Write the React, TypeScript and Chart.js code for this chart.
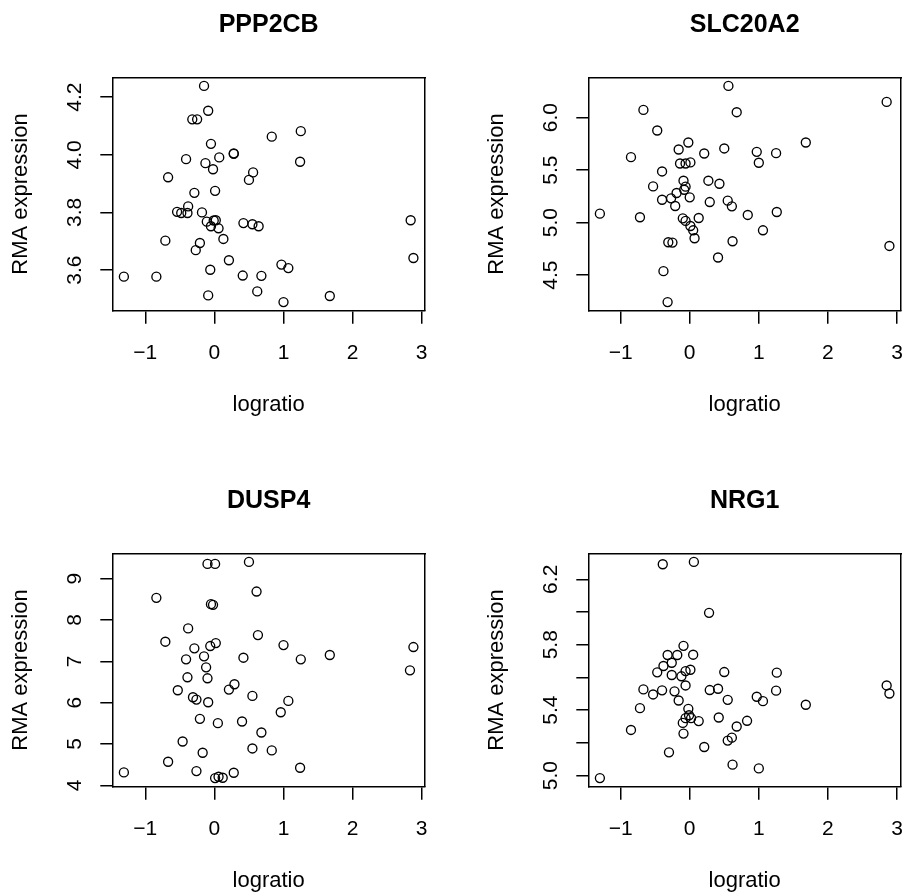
import React, { useEffect, useRef } from 'react';
import { Chart, registerables } from 'chart.js';

Chart.register(...registerables);

const FONT = "'Liberation Sans', Arial, Helvetica, sans-serif";
Chart.defaults.font.family = FONT;
Chart.defaults.color = '#000';

// ---------- data ----------
const xTicks = [-1, 0, 1, 2, 3];
const xTickLabels = ['\u22121', '0', '1', '2', '3'];

const ppp2cbX = [-0.15, -0.09, -0.32, -0.25, 1.25, 0.83, -0.05, 0.28, 0.28, -0.41, 0.07, -0.13, 1.24, -0.02, 0.56, 0.50, -0.67, -0.29, 0.01, -0.38, -0.54, -0.48, -0.39, -0.18, -0.11, -0.01, 0.02, -0.05, 0.06, 0.42, 0.55, 0.64, 2.84, 0.13, -0.71, -0.21, -0.27, 0.21, 2.88, 0.97, 1.07, -0.06, -1.31, -0.84, 0.41, 0.68, -0.09, 0.62, 1.67, 1.00];
const ppp2cbY = [4.239, 4.153, 4.123, 4.123, 4.082, 4.063, 4.038, 4.005, 4.003, 3.985, 3.991, 3.971, 3.976, 3.950, 3.939, 3.913, 3.922, 3.868, 3.875, 3.821, 3.802, 3.798, 3.798, 3.800, 3.768, 3.772, 3.773, 3.752, 3.745, 3.763, 3.759, 3.752, 3.773, 3.708, 3.702, 3.694, 3.669, 3.634, 3.642, 3.619, 3.607, 3.601, 3.577, 3.577, 3.581, 3.580, 3.512, 3.526, 3.510, 3.489];
const ppp2cbTicks = [3.6, 3.8, 4.0, 4.2];
const ppp2cbTickLabels = ['3.6', '3.8', '4.0', '4.2'];

const slc20a2X = [0.56, 2.85, -0.67, 0.68, -0.47, -0.02, 1.68, -0.85, -0.16, 0.21, 0.50, 0.97, 1.25, 1.00, -0.14, -0.06, 0.01, -0.40, -0.53, -0.09, 0.27, 0.43, -0.06, -0.08, -0.19, -0.27, -0.40, 0.00, -0.21, 0.29, 0.55, 0.61, -1.30, -0.72, -0.10, -0.06, 0.13, 0.01, 0.05, 0.07, 0.84, 1.26, 1.06, 0.62, -0.31, -0.25, 2.89, 0.41, -0.38, -0.32];
const slc20a2Y = [6.301, 6.149, 6.073, 6.051, 5.877, 5.763, 5.763, 5.623, 5.696, 5.658, 5.706, 5.674, 5.661, 5.570, 5.563, 5.563, 5.573, 5.487, 5.345, 5.399, 5.399, 5.370, 5.342, 5.313, 5.282, 5.231, 5.218, 5.241, 5.158, 5.196, 5.209, 5.155, 5.085, 5.051, 5.041, 5.016, 5.044, 4.968, 4.927, 4.851, 5.073, 5.101, 4.927, 4.823, 4.813, 4.810, 4.778, 4.668, 4.538, 4.244];
const slc20a2Ticks = [4.5, 5.0, 5.5, 6.0];
const slc20a2TickLabels = ['4.5', '5.0', '5.5', '6.0'];

const dusp4X = [-0.10, 0.01, 0.50, -0.84, 0.61, -0.05, -0.02, -0.38, -0.71, 0.63, 0.02, -0.06, -0.29, 1.00, 2.88, -0.15, 0.42, -0.41, 1.25, 1.67, -0.12, 2.83, -0.39, -0.10, 0.29, 0.21, -0.53, 0.55, -0.31, -0.26, -0.09, 1.07, 0.96, -0.21, 0.05, 0.40, 0.68, -0.46, -0.17, 0.55, 0.83, -0.67, -1.31, -0.26, 1.24, 0.28, 0.01, 0.06, 0.12];
const dusp4Y = [9.357, 9.357, 9.405, 8.537, 8.689, 8.384, 8.368, 7.796, 7.475, 7.636, 7.442, 7.370, 7.314, 7.394, 7.346, 7.121, 7.088, 7.048, 7.048, 7.153, 6.855, 6.783, 6.614, 6.590, 6.445, 6.316, 6.300, 6.163, 6.131, 6.075, 6.010, 6.043, 5.769, 5.608, 5.504, 5.544, 5.278, 5.061, 4.788, 4.892, 4.844, 4.570, 4.313, 4.345, 4.426, 4.305, 4.176, 4.208, 4.184];
const dusp4Ticks = [4, 5, 6, 7, 8, 9];
const dusp4TickLabels = ['4', '5', '6', '7', '8', '9'];

const nrg1X = [-0.39, 0.06, 0.28, -0.09, -0.32, -0.18, 0.05, -0.26, -0.38, -0.47, -0.06, 0.01, -0.26, -0.12, 0.50, 1.26, -0.06, -0.67, -0.40, -0.53, -0.22, 0.29, 0.41, 1.25, 2.85, 2.89, -0.16, 0.55, 0.97, 1.06, 1.68, -0.72, -0.02, -0.01, -0.06, 0.02, -0.10, 0.13, 0.42, 0.83, 0.68, -0.85, -0.09, 0.61, 0.55, 0.21, -0.30, 0.62, 1.00, -1.30];
const nrg1Y = [6.292, 6.306, 5.995, 5.793, 5.737, 5.737, 5.739, 5.690, 5.670, 5.631, 5.639, 5.647, 5.615, 5.607, 5.633, 5.629, 5.551, 5.527, 5.521, 5.496, 5.515, 5.523, 5.531, 5.519, 5.551, 5.502, 5.459, 5.463, 5.482, 5.455, 5.433, 5.412, 5.408, 5.369, 5.351, 5.351, 5.322, 5.333, 5.355, 5.335, 5.300, 5.279, 5.257, 5.232, 5.214, 5.175, 5.142, 5.067, 5.044, 4.985];
const nrg1Ticks = [5.0, 5.2, 5.4, 5.6, 5.8, 6.0, 6.2];
const nrg1TickLabels = ['5.0', '', '5.4', '', '5.8', '', '6.2'];

const xLabel = 'logratio';
const yLabel = 'RMA expression';

const panels = [
  { title: 'PPP2CB', x: ppp2cbX, y: ppp2cbY, yTicks: ppp2cbTicks, yTickLabels: ppp2cbTickLabels },
  { title: 'SLC20A2', x: slc20a2X, y: slc20a2Y, yTicks: slc20a2Ticks, yTickLabels: slc20a2TickLabels },
  { title: 'DUSP4', x: dusp4X, y: dusp4Y, yTicks: dusp4Ticks, yTickLabels: dusp4TickLabels },
  { title: 'NRG1', x: nrg1X, y: nrg1Y, yTicks: nrg1Ticks, yTickLabels: nrg1TickLabels },
];

// ---------- layout ----------
const slots = [
  { left: 0, top: 0 },
  { left: 476, top: 0 },
  { left: 0, top: 476 },
  { left: 476, top: 476 },
];
const PANEL_W = 427;
const PANEL_H = 417;
const Y_AXIS_W = 112.3;
const TOP_H = 77.3;
const X_AXIS_H = 106.3;
const TICK_SIZE = 21;
const AXIS_TITLE_SIZE = 22;
const MAIN_SIZE = 25;
const LINE_W = 1.5;

function rRange(v: number[]): [number, number] {
  const lo = Math.min(...v);
  const hi = Math.max(...v);
  const d = (hi - lo) * 0.04;
  return [lo - d, hi + d];
}

function widestLabel(labels: string[], size: number): number {
  const c = document.createElement('canvas').getContext('2d');
  if (!c) return 0;
  c.font = `normal ${size}px ${FONT}`;
  return Math.max(...labels.map((l) => c.measureText(l).width));
}

function zeroPad(s: any) {
  s.paddingLeft = 0;
  s.paddingRight = 0;
  s.paddingTop = 0;
  s.paddingBottom = 0;
}

function Panel({ cfg, slot }: { cfg: (typeof panels)[number]; slot: { left: number; top: number } }) {
  const ref = useRef<HTMLCanvasElement>(null);
  useEffect(() => {
    if (!ref.current) return;
    const tickFont = { family: FONT, size: TICK_SIZE };
    const widest = widestLabel(cfg.yTickLabels, TICK_SIZE);
    const [xmin, xmax] = rRange(cfg.x);
    const [ymin, ymax] = rRange(cfg.y);
    const pts = cfg.x.map((v, i) => ({ x: v, y: cfg.y[i] }));
    const chart = new Chart(ref.current, {
      type: 'scatter',
      data: {
        datasets: [
          {
            data: pts,
            pointStyle: 'circle',
            pointRadius: 4.5,
            pointHoverRadius: 4.5,
            pointBorderWidth: 1.35,
            pointBorderColor: '#000',
            pointBackgroundColor: 'rgba(0,0,0,0)',
            borderColor: '#000',
            backgroundColor: 'rgba(0,0,0,0)',
            showLine: false,
          },
        ],
      },
      options: {
        animation: false,
        responsive: true,
        maintainAspectRatio: false,
        events: [],
        layout: { padding: { left: 0, top: 0, right: 2, bottom: 0 }, autoPadding: false },
        plugins: { legend: { display: false }, tooltip: { enabled: false }, title: { display: false } },
        scales: {
          x: {
            type: 'linear',
            position: 'bottom',
            min: xmin,
            max: xmax,
            afterBuildTicks: (s: any) => {
              s.ticks = xTicks.map((v) => ({ value: v }));
            },
            afterFit: (s: any) => {
              s.height = X_AXIS_H;
              zeroPad(s);
            },
            grid: {
              display: true,
              drawOnChartArea: false,
              drawTicks: true,
              tickLength: 13,
              tickWidth: LINE_W,
              tickColor: '#000',
              color: '#000',
              lineWidth: LINE_W,
            },
            border: { display: true, color: '#000', width: LINE_W },
            ticks: {
              display: true,
              autoSkip: false,
              minRotation: 0,
              maxRotation: 0,
              padding: 16.5,
              color: '#000',
              font: tickFont,
              callback: (_v: any, i: number) => xTickLabels[i],
            },
            title: {
              display: true,
              text: xLabel,
              color: '#000',
              font: { family: FONT, size: AXIS_TITLE_SIZE },
              padding: { top: 0, bottom: -1 },
            },
          },
          y: {
            type: 'linear',
            position: 'left',
            min: ymin,
            max: ymax,
            afterBuildTicks: (s: any) => {
              s.ticks = cfg.yTicks.map((v) => ({ value: v }));
            },
            afterFit: (s: any) => {
              s.width = Y_AXIS_W;
              zeroPad(s);
            },
            grid: {
              display: true,
              drawOnChartArea: false,
              drawTicks: true,
              tickLength: 12,
              tickWidth: LINE_W,
              tickColor: '#000',
              color: '#000',
              lineWidth: LINE_W,
            },
            border: { display: true, color: '#000', width: LINE_W },
            ticks: {
              display: true,
              autoSkip: false,
              minRotation: 90,
              maxRotation: 90,
              crossAlign: 'center',
              padding: 36.8 - 12 - widest / 2,
              color: '#000',
              font: tickFont,
              callback: (_v: any, i: number) => cfg.yTickLabels[i],
            },
            title: {
              display: true,
              text: yLabel,
              color: '#000',
              font: { family: FONT, size: AXIS_TITLE_SIZE },
              padding: { top: 7.3, bottom: 0 },
            },
          },
          xt: {
            type: 'linear',
            position: 'top',
            display: true,
            afterFit: (s: any) => {
              s.height = TOP_H;
              zeroPad(s);
            },
            grid: { display: false, drawTicks: false },
            border: { display: true, color: '#000', width: LINE_W },
            ticks: { display: false },
            title: {
              display: true,
              text: cfg.title,
              color: '#000',
              font: { family: FONT, size: MAIN_SIZE, weight: 'bold' },
              padding: { top: 10.6, bottom: 0 },
            },
          },
          yr: {
            type: 'linear',
            position: 'right',
            display: true,
            afterFit: (s: any) => {
              s.width = 0;
              zeroPad(s);
            },
            grid: { display: false, drawTicks: false },
            border: { display: true, color: '#000', width: LINE_W },
            ticks: { display: false },
          },
        },
      } as any,
    });
    return () => chart.destroy();
  }, [cfg]);

  return (
    <div style={{ position: 'absolute', left: slot.left, top: slot.top, width: PANEL_W, height: PANEL_H }}>
      <canvas ref={ref} />
    </div>
  );
}

export default function App() {
  return (
    <div style={{ position: 'absolute', left: 0, top: 0, width: 903, height: 893, background: '#fff', overflow: 'hidden' }}>
      {panels.map((p, i) => (
        <Panel key={p.title} cfg={p} slot={slots[i]} />
      ))}
    </div>
  );
}
